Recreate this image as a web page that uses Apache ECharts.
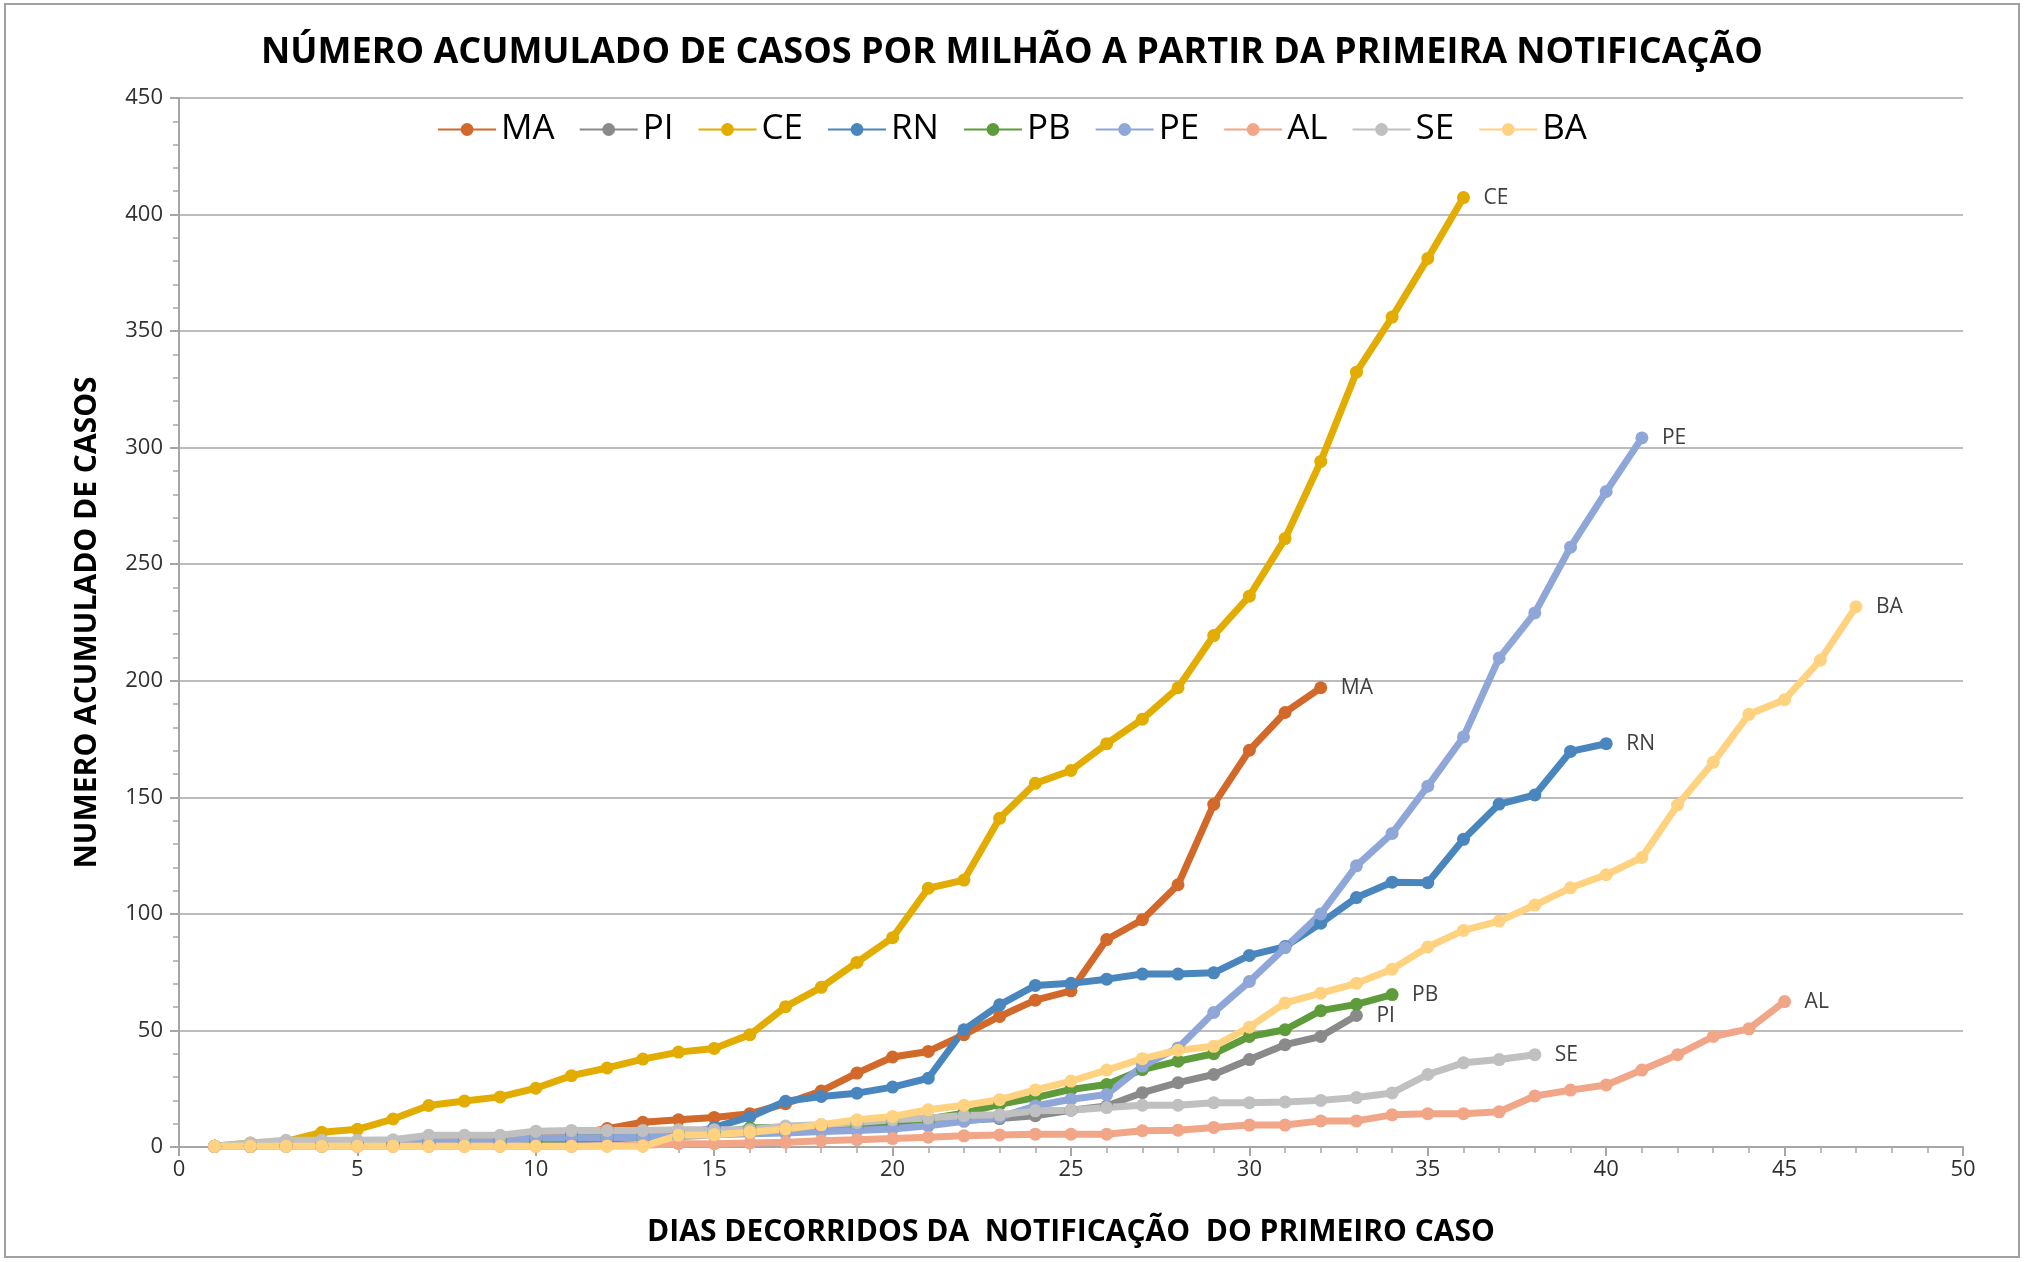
<!DOCTYPE html>
<html>
<head>
<meta charset="utf-8">
<script src="https://cdn.jsdelivr.net/npm/echarts@6/dist/echarts.min.js"></script>
<style>
html, body { margin: 0; padding: 0; background: #fff; }
#chart { width: 2024px; height: 1262px; }
</style>
</head>
<body>
<div id="chart"></div>
<script>
// estados e cores
var estados = ['MA', 'PI', 'CE', 'RN', 'PB', 'PE', 'AL', 'SE', 'BA'];
var cores = ['#D2692A', '#8A8A8A', '#E2AC00', '#4A86BE', '#5E9B3B', '#8FA7D8', '#F1A688', '#C0C0C0', '#FFD280'];

// casos acumulados por milhao, dia 1, 2, 3 ...
var MA = [0.3,0.3,0.5,0.5,1,1.5,2,2.5,3,4,5.5,7.9,10.6,11.7,12.7,14.3,18.6,24,31.7,38.6,41,48.2,56,63,67,89,97.5,112.5,147,170.2,186.4,197];
var PI = [0.3,0.5,0.5,1,1,1.5,2,2.5,3,3.5,4,4.5,5,5.5,6,6.5,7,7.5,8,9,10,11.5,12.2,13.4,15.8,17.6,23.3,27.6,31.1,37.5,43.9,47.4,56.4];
var CE = [0.3,1.7,2.4,6.3,7.6,12,17.8,19.7,21.5,25.2,30.6,33.9,37.7,40.7,42.3,48.2,60.2,68.5,79.2,89.8,111,114.5,141,156,161.5,173,183.5,197,219.4,236.3,261,294.1,332.4,356,381.2,407.3];
var RN = [0.3,0.3,0.5,0.5,1,1,1.5,1.5,2,2.5,3,3.5,4,4.5,8.4,12.9,19.6,21.7,23.1,25.7,29.5,50.3,61,69.3,70.2,72,74.2,74.2,74.7,82.2,86,96,107,113.6,113.4,132,147.1,151,169.7,173];
var PB = [0.3,0.3,0.5,0.5,1,1,1.5,2,2,3,3.5,4,4.5,5,6,8.1,8.5,9,10,11,12,14.5,18.3,21.2,24.7,26.8,33.2,36.8,40,47.4,50.3,58.5,61.2,65.4];
var PE = [0.3,0.3,0.3,0.3,0.5,0.5,2,2,2,3.9,4,4,4.2,4.4,5.3,5.7,6,6.7,7.1,7.7,9.1,11,12.8,17.6,20.5,22.5,34.7,42.5,57.7,71,85.5,100,120.6,134.5,154.8,175.9,209.8,229.1,257.3,281.2,304.2];
var AL = [0.3,0.3,0.3,0.3,0.3,0.3,0.3,0.3,0.3,0.3,0.3,0.5,0.8,1.4,1.4,1.7,2,2.7,3.1,3.6,4.2,4.8,5.2,5.5,5.5,5.5,7,7.2,8.4,9.4,9.4,11.2,11.2,13.8,14.3,14.3,15.1,21.9,24.4,26.6,33,39.6,47.4,50.7,62.4];
var SE = [0.3,1.7,2.9,2.9,2.9,3.1,5,5,5,6.8,7.1,7.1,7.1,7.4,7.4,7.4,9,9.5,10.5,11.7,12.4,13.5,13.8,15.5,15.8,16.9,17.9,17.9,19,19,19.3,20,21.2,23.2,31.1,36.1,37.5,39.6];
var BA = [0.3,0.3,0.3,0.3,0.3,0.3,0.3,0.3,0.3,0.3,0.3,0.3,0.3,5,5.3,6.3,7.7,9.6,11.7,13.1,16,17.9,20.3,24.5,28.3,33,37.9,41.5,43.2,51.4,61.8,66,70.2,76.3,85.8,92.9,96.9,103.8,111.2,116.8,124.2,146.7,165,185.6,191.9,208.8,231.8];

var valores = [MA, PI, CE, RN, PB, PE, AL, SE, BA];

var fonte = '"Open Sans", "Liberation Sans", sans-serif';

function pares(arr) {
	var out = [];
	for (var i = 0; i < arr.length; i++) {
		out.push([i + 1, arr[i]]);
	}
	return out;
}

var series = [];
for (var i = 0; i < estados.length; i++) {
	series.push({
		name: estados[i],
		type: 'line',
		data: pares(valores[i]),
		symbol: 'circle',
		symbolSize: 13,
		showAllSymbol: true,
		lineStyle: { width: 7, color: cores[i] },
		itemStyle: { color: cores[i] },
		endLabel: {
			show: true,
			formatter: '{a}',
			distance: 20,
			color: '#404040',
			fontSize: 21,
			fontFamily: fonte
		},
		emphasis: { disabled: true },
		animation: false
	});
}

var dom = document.getElementById('chart');
var myChart = echarts.init(dom);
var option = {
	backgroundColor: '#fff',
	animation: false,
	title: {
		text: 'NÚMERO ACUMULADO DE CASOS POR MILHÃO A PARTIR DA PRIMEIRA NOTIFICAÇÃO',
		left: 'center',
		top: 30,
		textStyle: { fontSize: 36, fontWeight: 'bold', color: '#000', fontFamily: fonte }
	},
	legend: {
		data: estados,
		left: 'center',
		top: 107,
		itemWidth: 58,
		itemHeight: 16,
		itemGap: 24,
		textStyle: { fontSize: 35, color: '#000', fontFamily: fonte }
	},
	graphic: [{
		type: 'rect',
		shape: { x: 5, y: 4, width: 2014, height: 1253 },
		style: { fill: 'none', stroke: '#A0A0A0', lineWidth: 2 },
		silent: true
	}],
	grid: { left: 179, right: 61, top: 98, bottom: 115 },
	xAxis: {
		type: 'value',
		min: 0,
		max: 50,
		interval: 5,
		name: 'DIAS DECORRIDOS DA  NOTIFICAÇÃO  DO PRIMEIRO CASO',
		nameLocation: 'middle',
		nameGap: 70,
		nameTextStyle: { fontSize: 30, fontWeight: 'bold', color: '#000', fontFamily: fonte },
		axisLine: { lineStyle: { color: '#A6A6A6', width: 2 } },
		axisTick: { show: true, length: 9, lineStyle: { color: '#A6A6A6', width: 2 } },
		minorTick: { show: true, splitNumber: 5, length: 6, lineStyle: { color: '#A6A6A6', width: 1.5 } },
		axisLabel: { fontSize: 22, color: '#303030', margin: 12, fontFamily: fonte },
		splitLine: { show: false }
	},
	yAxis: {
		type: 'value',
		min: 0,
		max: 450,
		interval: 50,
		name: 'NUMERO ACUMULADO DE CASOS',
		nameLocation: 'middle',
		nameGap: 77,
		nameTextStyle: { fontSize: 30, fontWeight: 'bold', color: '#000', fontFamily: fonte },
		axisLine: { show: true, lineStyle: { color: '#A6A6A6', width: 2 } },
		axisTick: { show: true, length: 9, lineStyle: { color: '#A6A6A6', width: 2 } },
		minorTick: { show: true, splitNumber: 5, length: 6, lineStyle: { color: '#A6A6A6', width: 1.5 } },
		axisLabel: { fontSize: 22, color: '#303030', margin: 16, fontFamily: fonte },
		splitLine: { show: true, lineStyle: { color: '#A6A6A6', width: 1.5 } }
	},
	series: series
};
if (option && typeof option === "object") {
	myChart.setOption(option, true);
}
</script>
</body>
</html>
